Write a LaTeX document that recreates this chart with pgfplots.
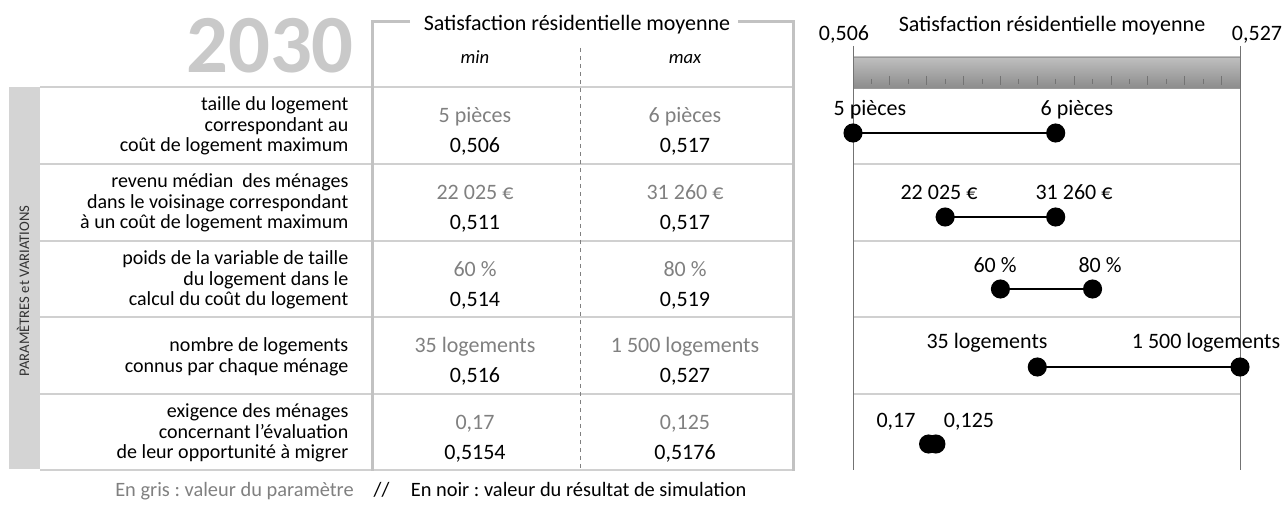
\documentclass[border=0pt]{standalone}
\usepackage{fontspec}
\setmainfont{Carlito}
\usepackage{pgfplots}
\pgfplotsset{compat=1.18}
\definecolor{frame}{HTML}{C2C2C2}
\definecolor{rowline}{HTML}{D0D0D0}
\definecolor{valgray}{HTML}{808080}
\definecolor{sidebar}{HTML}{D4D4D4}
\definecolor{yeargray}{HTML}{C9C9C9}
\frenchspacing

\begin{document}
\begin{tikzpicture}
\useasboundingbox (0,0) rectangle (964.5pt,-378.75pt);
% table, in pixel units (y down)
\begin{scope}[x=0.75pt,y=-0.75pt]
\node[font=\fontsize{62}{62}\selectfont\bfseries,text=yeargray] at (270,46) {2030};
\fill[sidebar] (9,87) rectangle (40,469);
\node[rotate=90,font=\fontsize{11}{11}\selectfont,text=black!80] at (23,291) {PARAMÈTRES et VARIATIONS};
\foreach \y in {87,164,241,317,394,470} \draw[rowline,line width=1.5pt] (40,\y) -- (793,\y);
\draw[valgray,dashed,line width=0.5pt] (580,48) -- (580,470);
\draw[frame,line width=2.25pt] (410,22) -- (372,22) -- (372,471);
\draw[frame,line width=2.25pt] (738,22) -- (793,22) -- (793,471);
\node[anchor=base,font=\fontsize{16.5}{18}\selectfont] at (577,31) {Satisfaction résidentielle moyenne};
\node[anchor=base,font=\fontsize{14}{16}\selectfont\itshape] at (475,64) {min};
\node[anchor=base,font=\fontsize{14}{16}\selectfont\itshape] at (685,64) {max};
% row labels
\begin{scope}[every node/.style={anchor=east,align=right,font=\fontsize{15}{15.4}\selectfont}]
\node at (353,126) {taille du logement\\correspondant au\\coût de logement maximum};
\node at (353,203) {revenu médian~ des ménages\\dans le voisinage correspondant\\à un coût de logement maximum};
\node at (353,280) {poids de la variable de taille\\du logement dans le\\calcul du coût du logement};
\node at (353,357) {nombre de logements\\connus par chaque ménage};
\node at (353,433) {exigence des ménages\\concernant l’évaluation\\de leur opportunité à migrer};
\end{scope}
% parameter (gray) and result (black) values
\begin{scope}[every node/.style={anchor=base,font=\fontsize{16.5}{18}\selectfont}]
\node[text=valgray] at (475,123) {5 pièces};        \node[text=valgray] at (685,123) {6 pièces};
\node at (475,153) {0,506};                          \node at (685,153) {0,517};
\node[text=valgray] at (475,200) {22 025 €};        \node[text=valgray] at (685,200) {31 260 €};
\node at (475,230) {0,511};                          \node at (685,230) {0,517};
\node[text=valgray] at (475,277) {60 \%};           \node[text=valgray] at (685,277) {80 \%};
\node at (475,307) {0,514};                          \node at (685,307) {0,519};
\node[text=valgray] at (475,353) {35 logements};    \node[text=valgray] at (685,353) {1 500 logements};
\node at (475,383) {0,516};                          \node at (685,383) {0,527};
\node[text=valgray] at (475,430) {0,17};            \node[text=valgray] at (685,430) {0,125};
\node at (475,460) {0,5154};                         \node at (685,460) {0,5176};
\end{scope}
\node[anchor=base west,inner sep=0pt,font=\fontsize{15.3}{17}\selectfont] at (115,497) {\textcolor{valgray}{En gris : valeur du paramètre}\hspace{15pt}//\hspace{16pt}En noir : valeur du résultat de simulation};
% right panel decoration
\node[anchor=base,font=\fontsize{16.5}{18}\selectfont] at (1052,32) {Satisfaction résidentielle moyenne};
\node[anchor=base,font=\fontsize{16.5}{18}\selectfont] at (844,41) {0,506};
\node[anchor=base,font=\fontsize{16.5}{18}\selectfont] at (1257,41) {0,527};
\foreach \y in {164,241,317,394} \draw[rowline,line width=1.5pt] (853,\y) -- (1240,\y);
\shade[top color=black!25,middle color=black!15,bottom color=black!45] (853,57) rectangle (1240,88);
\draw[black!40,line width=0.5pt] (853,57) rectangle (1240,88);
\foreach \k in {1,3,...,19} \draw[black!55,line width=0.6pt] ({853+\k*387/21},79) -- ++(0,5);
\foreach \k in {2,4,...,20} \draw[black!55,line width=0.6pt] ({853+\k*387/21},76) -- ++(0,9);
\draw[black!55,line width=0.75pt] (853,46) -- (853,470);
\draw[black!55,line width=0.75pt] (1240,46) -- (1240,470);
\end{scope}
% the dumbbells
\begin{axis}[at={(639.75pt,-65.25pt)},anchor=north west,scale only axis,
  width=290.25pt,height=287.25pt,xmin=0.506,xmax=0.527,ymin=87,ymax=470,
  y dir=reverse,hide axis,clip=false,
  dumb/.style={black,line width=1.5pt,mark=*,mark size=6.4pt,mark options={solid,fill=black,draw=black}}]
\addplot[dumb] coordinates {(0.506,133) (0.517,133)};
\addplot[dumb] coordinates {(0.511,217) (0.517,217)};
\addplot[dumb] coordinates {(0.514,289) (0.519,289)};
\addplot[dumb] coordinates {(0.516,367) (0.527,367)};
\addplot[dumb] coordinates {(0.5101,444) (0.5105,444)};
\end{axis}
\begin{scope}[x=0.75pt,y=-0.75pt,every node/.style={anchor=base,font=\fontsize{16.5}{18}\selectfont}]
\node at (870,116) {5 pièces};      \node at (1077,116) {6 pièces};
\node at (939,200) {22 025 €};      \node at (1074,200) {31 260 €};
\node at (995,273) {60 \%};         \node at (1100,273) {80 \%};
\node at (987,349) {35 logements};  \node at (1206,349) {1 500 logements};
\node at (896,428) {0,17};          \node at (969,428) {0,125};
\end{scope}
\end{tikzpicture}
\end{document}
